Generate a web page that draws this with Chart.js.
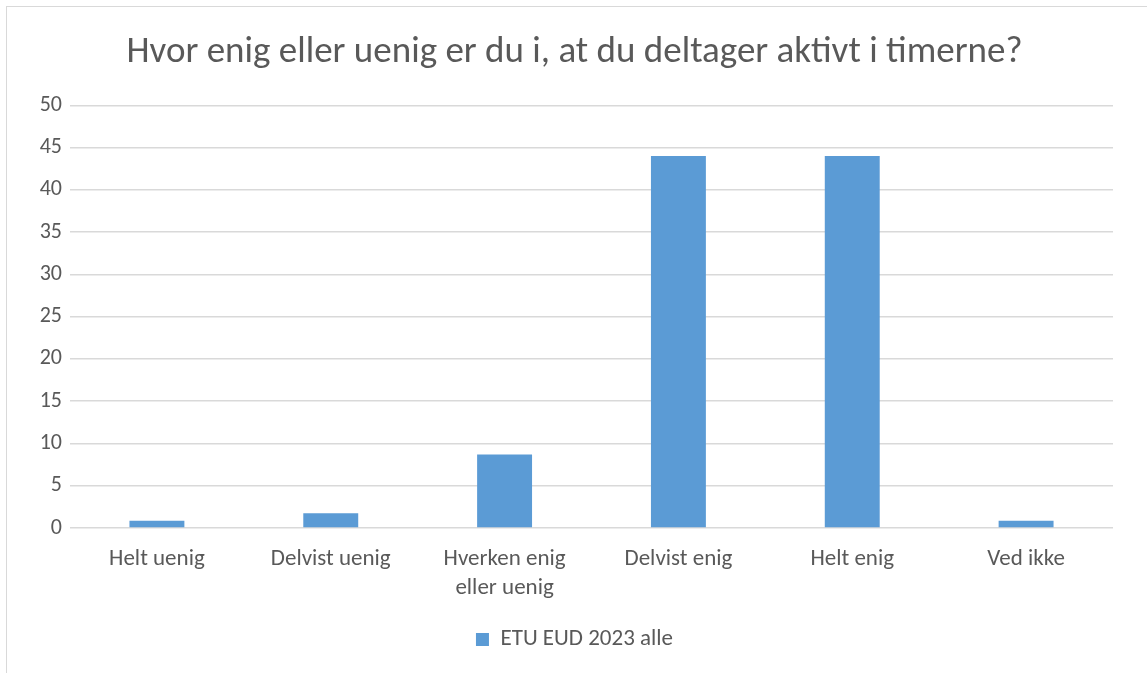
<!DOCTYPE html>
<html>
<head>
<meta charset="utf-8">
<script src="https://cdn.jsdelivr.net/npm/chart.js@4/dist/chart.umd.min.js"></script>
<style>
  html, body { margin: 0; padding: 0; background: #fff; }
  #wrap { position: relative; width: 1147px; height: 673px; overflow: hidden; }
  #frame { position: absolute; left: 6px; top: 6px; width: 1160px; height: 700px; border: 1px solid #d9d9d9; pointer-events: none; }
</style>
</head>
<body>
<div id="wrap">
  <canvas id="myChart" width="1147" height="673"></canvas>
  <div id="frame"></div>
</div>
<script>
const categories = ['Helt uenig', 'Delvist uenig', ['Hverken enig', 'eller uenig'], 'Delvist enig', 'Helt enig', 'Ved ikke'];
const seriesName = 'ETU EUD 2023 alle';
const values = [0.87, 1.74, 8.7, 44.0, 44.0, 0.87];
const yTicks = [0, 5, 10, 15, 20, 25, 30, 35, 40, 45, 50];

const FONT = 'Carlito, Calibri, Lato, sans-serif';
const TEXT = '#595959';

const chart = new Chart(document.getElementById('myChart'), {
  type: 'bar',
  data: {
    labels: categories,
    datasets: [{
      label: seriesName,
      data: values,
      backgroundColor: '#5B9BD5',
      borderWidth: 0,
      categoryPercentage: 1,
      barPercentage: 0.316
    }]
  },
  options: {
    responsive: false,
    animation: false,
    // left padding nudges title/legend centre to the right like the original
    layout: { padding: { left: 36, right: 34, top: 10, bottom: 12 } },
    plugins: {
      title: {
        display: true,
        text: 'Hvor enig eller uenig er du i, at du deltager aktivt i timerne?',
        color: TEXT,
        font: { family: FONT, size: 37, weight: 'normal', lineHeight: 1.2 },
        padding: { top: 21, bottom: 30 }
      },
      legend: {
        position: 'bottom',
        labels: {
          color: TEXT,
          font: { family: FONT, size: 23 },
          boxWidth: 13,
          boxHeight: 13,
          padding: 10
        }
      },
      tooltip: { enabled: false }
    },
    scales: {
      x: {
        grid: { display: false },
        border: { display: false },
        ticks: {
          color: TEXT,
          font: { family: FONT, size: 23, lineHeight: 1.25 },
          maxRotation: 0,
          padding: 9
        },
        afterFit: (scale) => { scale.height = 90; }
      },
      y: {
        min: 0,
        max: 50,
        afterBuildTicks: (scale) => { scale.ticks = yTicks.map(v => ({ value: v })); },
        grid: { color: '#d9d9d9', lineWidth: 1.5, drawTicks: false },
        border: { display: false },
        ticks: {
          color: TEXT,
          font: { family: FONT, size: 22 },
          padding: 8
        },
        afterFit: (scale) => { scale.width = 34; }
      }
    }
  }
});
</script>
</body>
</html>
